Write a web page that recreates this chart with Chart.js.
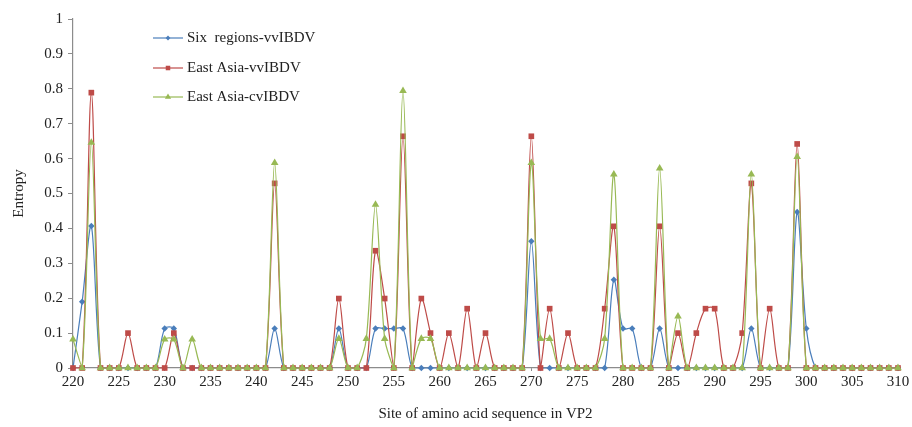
<!DOCTYPE html>
<html>
<head>
<meta charset="utf-8">
<script src="https://cdn.jsdelivr.net/npm/chart.js@4"></script>
<style>
  html, body { margin: 0; padding: 0; background: #fff; }
  #wrap { width: 912px; height: 427px; }
</style>
</head>
<body>
<div id="wrap"><canvas id="entropy-chart" width="912" height="427"></canvas></div>
<script>
const sites = [
  220, 221, 222, 223, 224, 225, 226, 227, 228, 229,
  230, 231, 232, 233, 234, 235, 236, 237, 238, 239,
  240, 241, 242, 243, 244, 245, 246, 247, 248, 249,
  250, 251, 252, 253, 254, 255, 256, 257, 258, 259,
  260, 261, 262, 263, 264, 265, 266, 267, 268, 269,
  270, 271, 272, 273, 274, 275, 276, 277, 278, 279,
  280, 281, 282, 283, 284, 285, 286, 287, 288, 289,
  290, 291, 292, 293, 294, 295, 296, 297, 298, 299,
  300, 301, 302, 303, 304, 305, 306, 307, 308, 309,
  310,
];

const sixRegionsVV = [
  0, 0.19, 0.407, 0, 0, 0, 0, 0, 0, 0,
  0.113, 0.113, 0, 0, 0, 0, 0, 0, 0, 0,
  0, 0, 0.113, 0, 0, 0, 0, 0, 0, 0.113,
  0, 0, 0, 0.113, 0.113, 0.113, 0.113, 0, 0, 0,
  0, 0, 0, 0, 0, 0, 0, 0, 0, 0,
  0.363, 0, 0, 0, 0, 0, 0, 0, 0, 0.253,
  0.113, 0.113, 0, 0, 0.113, 0, 0, 0, 0, 0,
  0, 0, 0, 0, 0.113, 0, 0, 0, 0, 0.447,
  0.113, 0, 0, 0, 0, 0, 0, 0, 0, 0,
  0,
];

const eastAsiaVV = [
  0, 0, 0.789, 0, 0, 0, 0.1, 0, 0, 0,
  0, 0.1, 0, 0, 0, 0, 0, 0, 0, 0,
  0, 0, 0.529, 0, 0, 0, 0, 0, 0, 0.199,
  0, 0, 0, 0.336, 0.199, 0, 0.664, 0, 0.199, 0.1,
  0, 0.1, 0, 0.17, 0, 0.1, 0, 0, 0, 0,
  0.664, 0, 0.17, 0, 0.1, 0, 0, 0, 0.17, 0.406,
  0, 0, 0, 0, 0.406, 0, 0.1, 0, 0.1, 0.17,
  0.17, 0, 0, 0.1, 0.529, 0, 0.17, 0, 0, 0.642,
  0, 0, 0, 0, 0, 0, 0, 0, 0, 0,
  0,
];

const eastAsiaCV = [
  0.082, 0, 0.646, 0, 0, 0, 0, 0, 0, 0,
  0.082, 0.082, 0, 0.082, 0, 0, 0, 0, 0, 0,
  0, 0, 0.588, 0, 0, 0, 0, 0, 0, 0.084,
  0, 0, 0.084, 0.468, 0.084, 0, 0.794, 0, 0.084, 0.084,
  0, 0, 0, 0, 0, 0, 0, 0, 0, 0,
  0.588, 0.084, 0.084, 0, 0, 0, 0, 0, 0.084, 0.555,
  0, 0, 0, 0, 0.572, 0, 0.148, 0, 0, 0,
  0, 0, 0, 0, 0.555, 0, 0, 0, 0, 0.605,
  0, 0, 0, 0, 0, 0, 0, 0, 0, 0,
  0,
];

const seriesNames = ["Six  regions-vvIBDV", "East Asia-vvIBDV", "East Asia-cvIBDV"];
const seriesValues = [sixRegionsVV, eastAsiaVV, eastAsiaCV];
const seriesColors = ["#4a7ebb", "#be4b48", "#98b954"];
const seriesMarkers = ["rectRot", "rect", "triangle"];
const markerSizes = [3.2, 4, 4.4];

const serif = "'Liberation Serif', 'Times New Roman', serif";

function toPoints(values) {
  return sites.map((s, i) => ({ x: s, y: values[i] }));
}

// legend drawn inside the plot, like the original
const insideLegend = {
  id: "insideLegend",
  afterDraw(chart) {
    const ctx = chart.ctx;
    const x0 = 153, x1 = 183;
    const rows = [38, 68, 97];
    ctx.save();
    seriesNames.forEach((name, i) => {
      const y = rows[i];
      ctx.strokeStyle = seriesColors[i];
      ctx.lineWidth = 1.2;
      ctx.beginPath();
      ctx.moveTo(x0, y);
      ctx.lineTo(x1, y);
      ctx.stroke();
      ctx.fillStyle = seriesColors[i];
      ctx.strokeStyle = seriesColors[i];
      ctx.lineWidth = 0;
      Chart.helpers.drawPoint(ctx, {
        pointStyle: seriesMarkers[i],
        radius: markerSizes[i] - 0.8,
        rotation: 0,
        borderWidth: 0,
      }, (x0 + x1) / 2, y);
      ctx.fillStyle = "#222";
      ctx.font = "15px " + serif;
      ctx.textBaseline = "middle";
      ctx.textAlign = "left";
      ctx.fillText(name, x1 + 4, y);
    });
    ctx.restore();
  },
};

const datasets = seriesNames.map((name, i) => ({
  label: name,
  data: toPoints(seriesValues[i]),
  borderColor: seriesColors[i],
  backgroundColor: seriesColors[i],
  borderWidth: 1.2,
  pointStyle: seriesMarkers[i],
  pointRadius: markerSizes[i],
  pointBorderWidth: 0,
  tension: 0.3,
  clip: false,
  order: 3 - i, // green on top, like Excel
}));

new Chart(document.getElementById("entropy-chart"), {
  type: "line",
  data: { datasets: datasets },
  options: {
    responsive: false,
    animation: false,
    layout: { padding: { left: 0, right: 14, top: 19, bottom: 0 } },
    plugins: {
      legend: { display: false },
      tooltip: { enabled: false },
    },
    scales: {
      x: {
        type: "linear",
        min: 220,
        max: 310,
        afterFit: (s) => { s.height = 59; },
        ticks: {
          stepSize: 5,
          color: "#222",
          font: { family: serif, size: 15 },
          padding: 2,
          maxRotation: 0,
        },
        grid: {
          drawOnChartArea: false,
          tickLength: 3,
          color: "#8c8c8c",
        },
        border: { color: "#8c8c8c", width: 1.2 },
        title: {
          display: true,
          text: "Site of amino acid sequence in VP2",
          color: "#222",
          font: { family: serif, size: 15 },
          padding: { top: 6 },
        },
      },
      y: {
        min: 0,
        max: 1,
        afterFit: (s) => { s.width = 73; },
        ticks: {
          stepSize: 0.1,
          color: "#222",
          font: { family: serif, size: 15 },
          padding: 5,
          callback: (v) => String(Math.round(v * 10) / 10),
        },
        grid: {
          drawOnChartArea: false,
          tickLength: 5,
          color: "#8c8c8c",
        },
        border: { color: "#8c8c8c", width: 1.2 },
        title: {
          display: true,
          text: "Entropy",
          color: "#222",
          font: { family: serif, size: 15 },
          padding: { top: 10, bottom: 0 },
        },
      },
    },
  },
  plugins: [insideLegend],
});
</script>
</body>
</html>
